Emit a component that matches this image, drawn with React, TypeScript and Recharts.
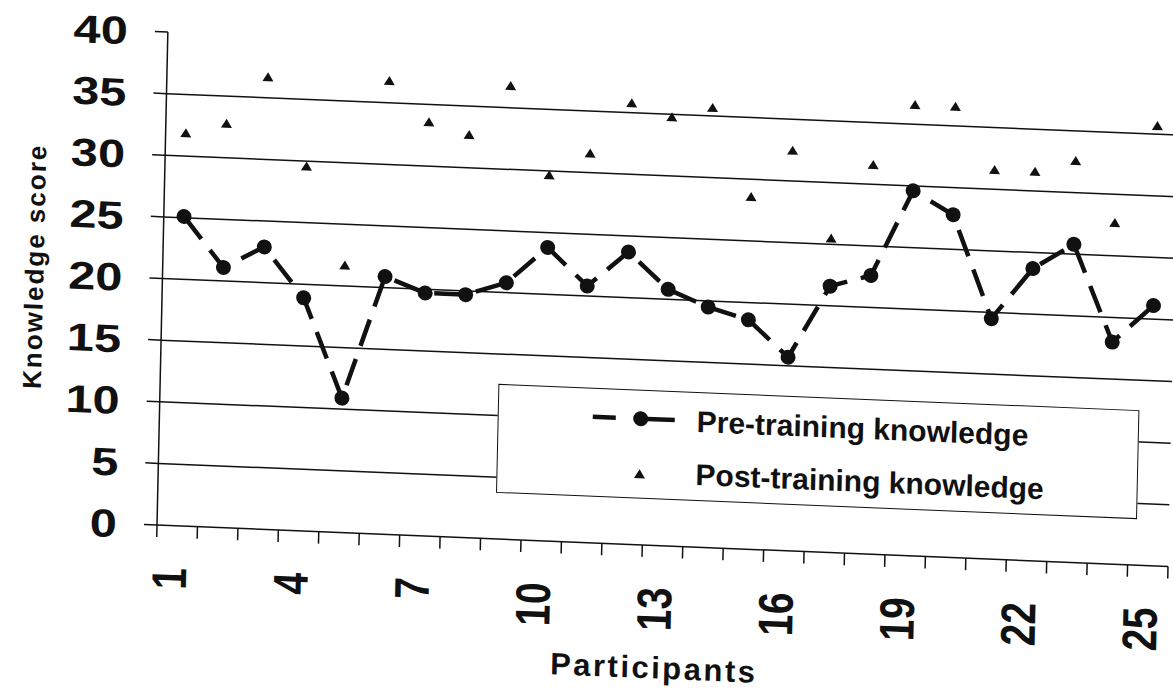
import { ComposedChart, Legend, Line, ReferenceLine, XAxis, YAxis } from "recharts"

const participants = [
  1, 2, 3, 4, 5, 6, 7, 8, 9, 10, 11, 12, 13, 14, 15, 16, 17, 18, 19, 20, 21, 22,
  23, 24, 25,
]
const preTraining = [
  25.1, 21.1, 22.9, 18.9, 10.9, 20.9, 19.7, 19.7, 20.8, 23.8, 20.8, 23.7, 20.8,
  19.5, 18.6, 15.7, 21.6, 22.6, 29.6, 27.8, 19.5, 23.7, 25.8, 18.0, 21.1,
]
const postTraining = [
  31.9, 32.8, 36.7, 29.6, 21.7, 36.8, 33.6, 32.7, 36.8, 29.7, 31.6, 35.8, 34.8,
  35.7, 28.6, 32.5, 25.5, 31.6, 36.6, 36.6, 31.6, 31.6, 32.6, 27.7, 35.7,
]
const scoreTicks = [0, 5, 10, 15, 20, 25, 30, 35, 40]
const gridScores = [5, 10, 15, 20, 25, 30, 35]
const participantLabels = [1, 4, 7, 10, 13, 16, 19, 22, 25]
const seriesNames = ["Pre-training knowledge", "Post-training knowledge"]

const INK = "#111"
const FONT = "'Liberation Sans', Arial, Helvetica, sans-serif"
// the reference is a scan, the page sits a little sheared
const SCAN_SHEAR = "matrix(1, 0.041, -0.022, 1, 0, 0)"

// tick marks sit between participants
const boundaryTicks = participants
  .map((p) => p - 0.5)
  .concat(participants.length + 0.5)

const data = participants.map((p, i) => ({
  participant: p,
  pre: preTraining[i],
  post: postTraining[i],
}))

const NoTick = () => <g />

function ScoreTick({ x, y, payload }: any) {
  return (
    <text
      transform={`translate(${x},${y}) scale(1.25,1)`}
      textAnchor="end"
      dy="0.355em"
      fontSize={39}
      fontWeight="bold"
      fontFamily={FONT}
      fill={INK}
    >
      {payload.value}
    </text>
  )
}

function ParticipantTick({ x, y, payload }: any) {
  return (
    <text
      transform={`translate(${x},${y + 30}) scale(1.25,1) rotate(-90)`}
      textAnchor="end"
      dy={8}
      fontSize={39}
      fontWeight="bold"
      fontFamily={FONT}
      fill={INK}
    >
      {payload.value}
    </text>
  )
}

function ScoreTitle({ viewBox }: any) {
  const x = viewBox.x + 38
  const y = viewBox.y + viewBox.height / 2 - 7
  return (
    <text
      x={x}
      y={y}
      transform={`rotate(-90, ${x}, ${y})`}
      textAnchor="middle"
      fontSize={26}
      fontWeight="bold"
      letterSpacing={2}
      fontFamily={FONT}
      fill={INK}
    >
      Knowledge score
    </text>
  )
}

function ParticipantTitle({ viewBox }: any) {
  return (
    <text
      x={viewBox.x + viewBox.width / 2 - 6}
      y={viewBox.y + 121}
      textAnchor="middle"
      fontSize={31}
      fontWeight="bold"
      letterSpacing={2.5}
      fontFamily={FONT}
      fill={INK}
    >
      Participants
    </text>
  )
}

function Triangle({ cx, cy, index }: any) {
  if (cx == null || cy == null) return <g key={index} />
  return (
    <polygon
      key={index}
      points={`${cx},${cy - 4.5} ${cx + 5.5},${cy + 4.5} ${cx - 5.5},${cy + 4.5}`}
      fill={INK}
    />
  )
}

function KeyBox() {
  const text = {
    fontSize: 30,
    fontWeight: "bold" as const,
    fontFamily: FONT,
    fill: INK,
  }
  return (
    <div
      style={{
        width: 641,
        height: 109,
        border: `1.5px solid ${INK}`,
        background: "#fff",
        boxSizing: "border-box",
        position: "relative",
      }}
    >
      <svg
        width={641}
        height={109}
        style={{ position: "absolute", left: -1.5, top: -1.5 }}
      >
        <line x1={95} y1={29} x2={118} y2={29} stroke={INK} strokeWidth={4.5} />
        <line x1={136} y1={29} x2={177} y2={29} stroke={INK} strokeWidth={4.5} />
        <circle cx={143} cy={29} r={7.5} fill={INK} />
        <text x={199} y={40} {...text}>
          {seriesNames[0]}
        </text>
        <polygon points="143,79.5 148.5,88.5 137.5,88.5" fill={INK} />
        <text x={199} y={93} {...text}>
          {seriesNames[1]}
        </text>
      </svg>
    </div>
  )
}

export default function App() {
  return (
    <div
      style={{
        position: "absolute",
        left: 0,
        top: 0,
        width: 1173,
        height: 693,
        background: "#fff",
        transform: SCAN_SHEAR,
        transformOrigin: "157px 525px",
      }}
    >
      <ComposedChart
        width={1173}
        height={693}
        data={data}
        margin={{ top: 32, right: 5, left: 0, bottom: 0 }}
      >
        {gridScores.map((v) => (
          <ReferenceLine key={v} y={v} stroke={INK} strokeWidth={1.5} />
        ))}
        <XAxis
          dataKey="participant"
          type="number"
          domain={[0.5, 25.5]}
          allowDataOverflow
          ticks={boundaryTicks}
          interval={0}
          height={12}
          tickSize={12}
          tick={NoTick}
          axisLine={{ stroke: INK, strokeWidth: 1.5 }}
          tickLine={{ stroke: INK, strokeWidth: 1.5 }}
        />
        <XAxis
          xAxisId="labels"
          dataKey="participant"
          type="number"
          domain={[0.5, 25.5]}
          allowDataOverflow
          ticks={participantLabels}
          interval={0}
          height={156}
          tickSize={0}
          tickMargin={0}
          axisLine={false}
          tickLine={false}
          tick={ParticipantTick}
          label={ParticipantTitle}
        />
        <YAxis
          type="number"
          domain={[0, 40]}
          ticks={scoreTicks}
          interval={0}
          width={157}
          tickSize={13}
          tickMargin={27}
          tick={ScoreTick}
          axisLine={{ stroke: INK, strokeWidth: 1.5 }}
          tickLine={{ stroke: INK, strokeWidth: 1.5 }}
          label={ScoreTitle}
        />
        <Legend
          content={() => <KeyBox />}
          layout="horizontal"
          verticalAlign="middle"
          align="center"
          wrapperStyle={{ left: 495, top: 370, width: 641, height: 109 }}
        />
        <Line
          type="linear"
          dataKey="pre"
          name={seriesNames[0]}
          stroke={INK}
          strokeWidth={4.5}
          strokeDasharray="28 14"
          dot={{ r: 7.5, fill: INK, stroke: "none" }}
          activeDot={false}
          isAnimationActive={false}
        />
        <Line
          type="linear"
          dataKey="post"
          name={seriesNames[1]}
          stroke="none"
          dot={Triangle}
          activeDot={false}
          isAnimationActive={false}
        />
      </ComposedChart>
    </div>
  )
}
